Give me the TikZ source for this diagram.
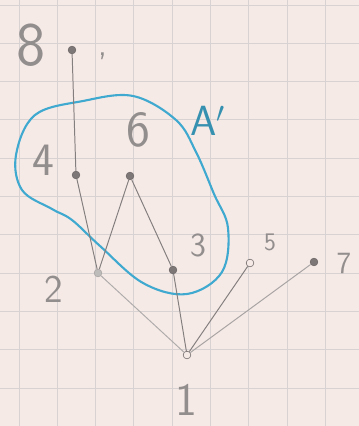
\documentclass[tikz,border=0pt]{standalone}
\usepackage{fontspec}
\usepackage{tikz}
\definecolor{paper}{HTML}{F6EAE6}
\definecolor{gridc}{HTML}{D9D2D2}
\definecolor{pencil}{HTML}{6E6868}
\definecolor{marker}{HTML}{3FA9CF}
\tikzset{
  dot/.style={circle, fill=pencil!90, draw=pencil, inner sep=0pt, minimum size=5.5pt},
  edge/.style={pencil!85, line width=0.7pt},
  lbl/.style={text=pencil!75, inner sep=0pt, font=\sffamily\fontsize{#1}{#1}\selectfont},
  blob/.style={marker, line width=1.5pt},
  gridline/.style={gridc, line width=0.6pt},
}

\begin{document}
\begin{tikzpicture}[x=0.025cm, y=-0.025cm]
    % paper and squares
    \fill[paper] (0,0) rectangle (359,426);
    \useasboundingbox (0,0) rectangle (359,426);
    \foreach \gx in {19,57.3,...,359} \draw[gridline] (\gx,0) -- (\gx,426);
    \foreach \gy in {5,43.3,...,426} \draw[gridline] (0,\gy) -- (359,\gy);

    % the set A'
    \draw[blob] plot[smooth cycle, tension=0.6] coordinates {(133,96) (83,101) (35,115) (16,155) (22,190) (52,209) (72,220) (100,246) (143,283) (187,294) (222,272) (228,228) (214,194) (196,152) (176,120)};
    \node[lbl=30pt, text=marker!85!black] (A) at (208,121) {A$'$};

    % elements
    \node[dot] (n8) at (72,50) {};
    \node[dot] (n4) at (76,175) {};
    \node[dot] (n6) at (130,176) {};
    \node[dot, fill=pencil!45, draw=pencil!60] (n2) at (98,273) {};
    \node[dot] (n3) at (173,270) {};
    \node[dot, fill=paper] (n5) at (250,263) {};
    \node[dot] (n7) at (314,262) {};
    \node[dot, fill=paper] (n1) at (187,355) {};

    \node[lbl=44pt] (l8) at (31,45) {8};
    \node[lbl=24pt] (cm) at (103,56) {,};
    \node[lbl=33pt] (l4) at (43,160) {4};
    \node[lbl=36pt] (l6) at (138,130) {6};
    \node[lbl=28pt] (l2) at (54,289) {2};
    \node[lbl=24pt] (l3) at (198,245) {3};
    \node[lbl=18pt] (l5) at (270,242) {5};
    \node[lbl=22pt] (l7) at (344,263) {7};
    \node[lbl=33pt] (l1) at (186,400) {1};

    \draw[edge] (n8) -- (n4); \draw[edge] (n4) -- (n2); \draw[edge] (n2) -- (n6); \draw[edge] (n6) -- (n3);
    \draw[edge, pencil!55] (n2) -- (n1); \draw[edge] (n3) -- (n1); \draw[edge] (n5) -- (n1); \draw[edge, pencil!60] (n7) -- (n1);
  \end{tikzpicture}
\end{document}
